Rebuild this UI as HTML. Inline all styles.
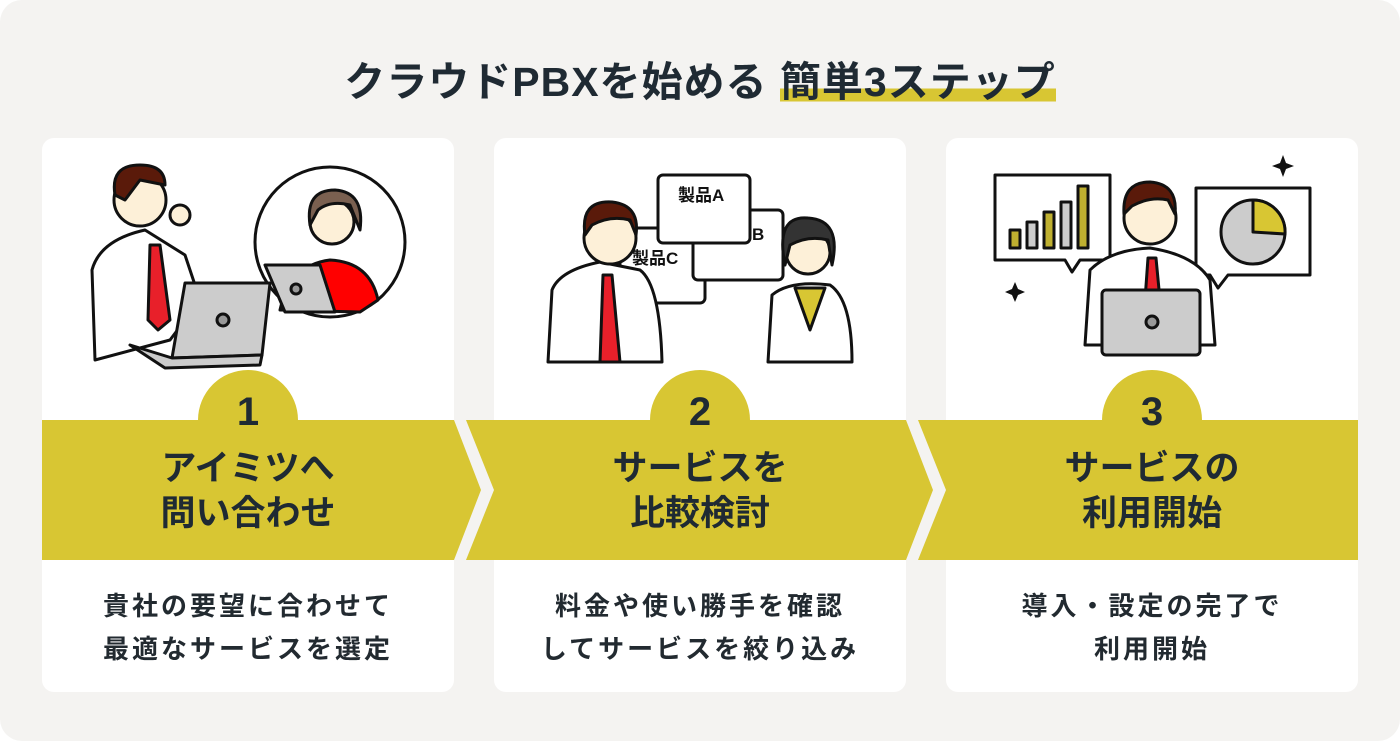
<!DOCTYPE html>
<html><head><meta charset="utf-8"><style>
*{margin:0;padding:0;box-sizing:border-box}
body{width:1400px;height:741px;background:#fff;font-family:"Liberation Sans","Noto Sans CJK JP",sans-serif;overflow:hidden}
.bg{position:absolute;left:0;top:0;width:1400px;height:741px;background:#f4f3f1;border-radius:22px}
.title{position:absolute;left:0;width:1400px;top:56px;text-align:center;font-size:41px;font-weight:bold;color:#1f2a33;letter-spacing:1px;line-height:52px}
.title span{background:linear-gradient(transparent 64%,#d8c633 64%,#d8c633 92%,transparent 92%)}
.card{position:absolute;top:138px;width:412px;height:554px;background:#fff;border-radius:12px}
.circ{position:absolute;width:100px;height:100px;border-radius:50%;background:#d8c633;top:370px}
.num{position:absolute;top:390px;width:100px;text-align:center;font-size:40px;font-weight:bold;color:#1f2a33}
.st{position:absolute;top:446px;width:412px;text-align:center;font-size:35px;font-weight:bold;color:#1f2a33;line-height:45px}
.ds{position:absolute;top:585px;width:412px;text-align:center;font-size:26px;font-weight:bold;color:#222a30;line-height:43px;letter-spacing:3px}
svg{position:absolute;left:0;top:0}
</style></head><body>
<div class="bg"></div>
<div class="title">クラウドPBXを始める <span>簡単3ステップ</span></div>
<div class="card" style="left:42px"></div>
<div class="card" style="left:494px"></div>
<div class="card" style="left:946px"></div>
<div class="circ" style="left:198px"></div>
<div class="circ" style="left:650px"></div>
<div class="circ" style="left:1102px"></div>
<svg width="1400" height="741">
<rect x="42" y="420" width="1316" height="140" fill="#d8c633"/>
<polygon points="454,420 466,420 494,490 466,560 454,560 481,490" fill="#f4f3f1"/>
<polygon points="906,420 918,420 946,490 918,560 906,560 933,490" fill="#f4f3f1"/>
<g stroke="#111" stroke-width="3" stroke-linejoin="round">
<path d="M95,360 L92,270 Q100,240 145,230 L185,255 L200,300 L170,340 Z" fill="#fff"/>
<polygon points="150,245 160,245 170,320 158,330 148,320" fill="#e8202a"/>
<circle cx="140" cy="200" r="26" fill="#fdf0d8"/>
<path d="M115,195 Q110,165 140,165 Q165,165 165,185 L140,180 L125,200 Z" fill="#5a1a0a"/>
<circle cx="180" cy="215" r="10" fill="#fdf0d8"/>
<circle cx="330" cy="242" r="75" fill="#fff"/>
<path d="M280,310 Q290,265 330,260 Q370,262 378,300 L360,312 Z" fill="#f00"/>
<circle cx="332" cy="222" r="22" fill="#fdf0d8"/>
<path d="M310,225 Q305,190 335,190 Q365,192 360,230 L350,205 Q330,200 318,210 Z" fill="#7a6050"/>
<polygon points="265,265 320,265 335,312 285,312" fill="#ccc"/>
<circle cx="296" cy="289" r="5" fill="#999"/>
<polygon points="185,283 270,283 262,355 172,358" fill="#ccc"/>
<polygon points="130,345 172,358 262,355 260,365 165,368" fill="#ccc"/>
<circle cx="223" cy="320" r="6" fill="#999"/>
<rect x="620" y="228" width="85" height="75" rx="5" fill="#fff"/>
<rect x="693" y="210" width="90" height="70" rx="5" fill="#fff"/>
<rect x="658" y="175" width="92" height="68" rx="5" fill="#fff"/>
<path d="M548,362 L552,290 Q560,270 600,262 L640,270 Q660,285 662,362 Z" fill="#fff"/>
<polygon points="603,275 612,275 620,362 600,362" fill="#e8202a"/>
<circle cx="610" cy="238" r="26" fill="#fdf0d8"/>
<path d="M585,235 Q580,200 612,202 Q640,205 636,235 L630,220 Q610,215 592,225 Z" fill="#5a1a0a"/>
<path d="M768,362 L772,295 Q790,280 830,285 Q852,300 852,362 Z" fill="#fff"/>
<polygon points="795,288 825,288 810,330" fill="#d8c633"/>
<circle cx="808" cy="252" r="22" fill="#fdf0d8"/>
<path d="M785,265 Q775,215 808,218 Q842,220 832,265 L828,240 Q808,235 790,245 Z" fill="#333"/>
<polygon points="995,175 1110,175 1110,260 1080,260 1072,272 1065,260 995,260" fill="#fff"/>
<rect x="1010" y="230" width="10" height="18" fill="#bfb030"/><rect x="1027" y="222" width="10" height="26" fill="#ccc"/>
<rect x="1044" y="212" width="10" height="36" fill="#bfb030"/><rect x="1061" y="202" width="10" height="46" fill="#ccc"/>
<rect x="1078" y="186" width="10" height="62" fill="#bfb030"/>
<polygon points="1196,188 1310,188 1310,275 1228,275 1218,288 1210,275 1196,275" fill="#fff"/>
<circle cx="1253" cy="232" r="32" fill="#ccc"/>
<path d="M1253,232 L1253,200 A32,32 0 0 1 1285,234 Z" fill="#d8c633"/>
<path d="M1085,345 L1090,270 Q1110,250 1150,248 Q1195,255 1210,280 L1215,345 Z" fill="#fff"/>
<polygon points="1148,258 1156,258 1160,300 1145,300" fill="#e8202a"/>
<circle cx="1150" cy="218" r="26" fill="#fdf0d8"/>
<path d="M1124,214 Q1122,182 1150,182 Q1178,184 1175,214 L1168,200 Q1150,196 1132,206 Z" fill="#5a1a0a"/>
<rect x="1102" y="290" width="98" height="65" rx="4" fill="#ccc"/>
<circle cx="1152" cy="322" r="6" fill="#999"/>
</g>
<g fill="#111" font-family="Liberation Sans,Noto Sans CJK JP,sans-serif" font-weight="bold" font-size="17">
<text x="678" y="201">製品A</text><text x="752" y="240">B</text><text x="632" y="264">製品C</text>
<path d="M1283,155 l3,8 8,3 -8,3 -3,8 -3,-8 -8,-3 8,-3z"/><path d="M1015,282 l3,7 7,3 -7,3 -3,7 -3,-7 -7,-3 7,-3z"/>
</g>
</svg>
<div class="num" style="left:198px">1</div>
<div class="num" style="left:650px">2</div>
<div class="num" style="left:1102px">3</div>
<div class="st" style="left:42px">アイミツへ<br>問い合わせ</div>
<div class="st" style="left:494px">サービスを<br>比較検討</div>
<div class="st" style="left:946px">サービスの<br>利用開始</div>
<div class="ds" style="left:42px">貴社の要望に合わせて<br>最適なサービスを選定</div>
<div class="ds" style="left:494px">料金や使い勝手を確認<br>してサービスを絞り込み</div>
<div class="ds" style="left:946px">導入・設定の完了で<br>利用開始</div>
</body></html>
